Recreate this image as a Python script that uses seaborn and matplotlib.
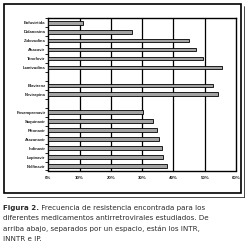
import matplotlib
matplotlib.use("Agg")
import matplotlib.pyplot as plt
import seaborn as sns
import pandas as pd
import numpy as np
from matplotlib.patches import Rectangle
from matplotlib.lines import Line2D

drugs = ["Enfuvirtida", "Didanosina", "Zidovudina", "Abacavir", "Tenofovir", "Lamivudina",
         "Efavirenz", "Nevirapina",
         "Fosamprenavir", "Saquinavir", "Ritonavir", "Atazanavir", "Indinavir", "Lopinavir", "Nelfinavir"]
resistance = [11.2, 26.6, 45.0, 47.1, 49.3, 55.4,
              52.8, 54.3,
              30.4, 33.5, 34.8, 35.3, 36.2, 36.7, 38.1]
order = ["Enfuvirtida", "Didanosina", "Zidovudina", "Abacavir", "Tenofovir", "Lamivudina", " ",
         "Efavirenz", "Nevirapina", "  ",
         "Fosamprenavir", "Saquinavir", "Ritonavir", "Atazanavir", "Indinavir", "Lopinavir", "Nelfinavir"]
xticks = [0, 10, 20, 30, 40, 50, 60]
xticklabels = ["0%", "10%", "20%", "30%", "40%", "50%", "60%"]
caption_bold = "Figura 2."
caption_lines = [" Frecuencia de resistencia encontrada para los",
                 "diferentes medicamentos antirretrovirales estudiados. De",
                 "arriba abajo, separados por un espacio, están los INTR,",
                 "INNTR e IP."]

df = pd.DataFrame({"drug": drugs, "val": resistance})

sns.set_theme(style="white")
plt.rcParams['font.family'] = ['DejaVu Sans']

fig = plt.figure(figsize=(2.49, 2.49), dpi=100)
W = H = 249.0
ax = fig.add_axes([48.3 / W, 1 - 170.5 / H, (236 - 48.3) / W, (170.5 - 18.2) / H])
ax.set_zorder(2)
ax.patch.set_alpha(0)

sns.barplot(data=df, x="val", y="drug", order=order, orient="h", ax=ax,
            color="#a3a3a3", edgecolor="black", linewidth=0.6, width=0.42,
            saturation=1, errorbar=None, zorder=3)

ax.set_xlim(0, 60)
ax.set_ylim(len(order) - 0.5, -0.5)
ax.set_xticks(xticks)
ax.set_xticklabels(xticklabels, fontsize=3.2, fontweight="bold",
                   family=["Liberation Sans"], color="#222222")
ax.set_yticks(range(len(order)))
ax.set_yticklabels(order, fontsize=3.0, fontweight="bold",
                   family=["Liberation Sans"], color="#222222")
ax.set_yticks(np.arange(-0.5, len(order), 1), minor=True)
ax.tick_params(axis="y", which="major", length=0, pad=2)
ax.tick_params(axis="y", which="minor", length=2, width=0.6, color="black", left=True)
ax.tick_params(axis="x", which="major", length=0, pad=4)
ax.set_xlabel("")
ax.set_ylabel("")
ax.grid(False)
for x in xticks[1:-1]:
    ax.axvline(x, color="black", lw=0.9, zorder=1)
for s in ax.spines.values():
    s.set_visible(True)
    s.set_color("black")
    s.set_linewidth(1.0)

# outer frame
fig.patches.append(Rectangle((4 / W, 1 - 193 / H), (241 - 4) / W, (193 - 4) / H,
                             transform=fig.transFigure, fill=False, edgecolor="black",
                             linewidth=1.2, zorder=1))
fig.lines.append(Line2D([244 / W, 244 / W], [1 - 6 / H, 1 - 197 / H],
                        transform=fig.transFigure, color="black", lw=0.5))
fig.lines.append(Line2D([7 / W, 244 / W], [1 - 197 / H, 1 - 197 / H],
                        transform=fig.transFigure, color="black", lw=0.5))

# caption
fs = 5.1
col = "#2a2a2a"
y0 = 1 - 208 / H
tb = fig.text(3 / W, y0, caption_bold, fontsize=fs, fontweight="bold", color=col, va="center")
fig.canvas.draw()
bb = tb.get_window_extent(renderer=fig.canvas.get_renderer())
fig.text(bb.x1 / W, y0, caption_lines[0], fontsize=fs, color=col, va="center")
for i, line in enumerate(caption_lines[1:], start=1):
    fig.text(3 / W, y0 - i * 10.3 / H, line, fontsize=fs, color=col, va="center")

fig.savefig("out.png", dpi=100)
